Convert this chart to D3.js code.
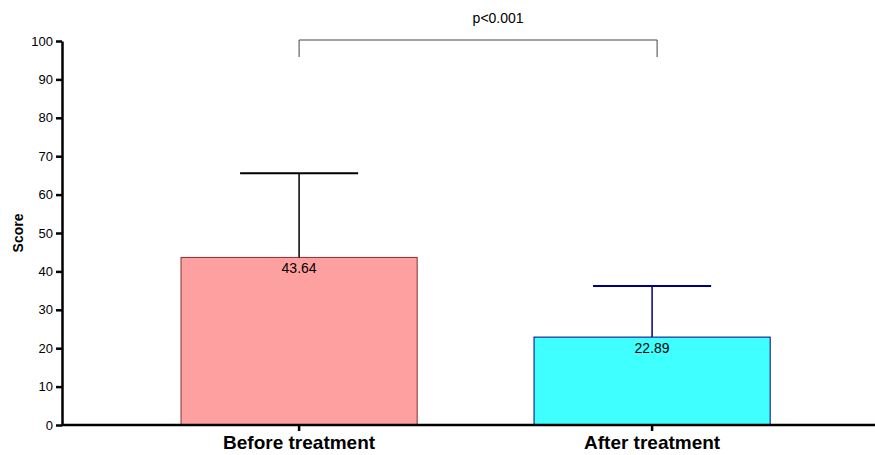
<!DOCTYPE html>
<html>
<head>
<meta charset="utf-8">
<script src="https://cdn.jsdelivr.net/npm/d3@7"></script>
<style>
  html, body { margin: 0; padding: 0; background: #fff; }
  svg { display: block; font-family: Arial, "Liberation Sans", sans-serif; }
</style>
</head>
<body>
<svg id="chart" width="875" height="455"></svg>
<script>
// Data
const categories = ['Before treatment', 'After treatment'];
const means = [43.64, 22.89];
const errors = [21.9, 13.3];
const yTicks = [0, 10, 20, 30, 40, 50, 60, 70, 80, 90, 100];
const pLabel = 'p<0.001';

const fills = ['#ffa0a0', '#40ffff'];
const strokes = ['#8a2f2f', '#000080'];
const errColors = ['#000000', '#000080'];

const width = 875, height = 455;
const axisX = 62;
const svg = d3.select('#chart');

// Scales
const x = d3.scaleBand()
  .domain(categories)
  .range([122.6, 828.6])
  .paddingInner(0.331)
  .paddingOuter(0.1655);

const y = d3.scaleLinear()
  .domain([0, 100])
  .range([425, 41]);

// Bars
svg.append('g')
  .selectAll('rect')
  .data(categories)
  .join('rect')
  .attr('x', d => x(d))
  .attr('y', (d, i) => y(means[i]))
  .attr('width', x.bandwidth())
  .attr('height', (d, i) => y(0) - y(means[i]))
  .attr('fill', (d, i) => fills[i])
  .attr('stroke', (d, i) => strokes[i])
  .attr('stroke-width', 1);

// Error bars (upper only)
const capHalf = x.bandwidth() / 4;
const errG = svg.append('g');
categories.forEach((c, i) => {
  const cx = x(c) + x.bandwidth() / 2;
  errG.append('line')
    .attr('x1', cx).attr('x2', cx)
    .attr('y1', y(means[i])).attr('y2', y(means[i] + errors[i]))
    .attr('stroke', errColors[i]).attr('stroke-width', 1.5);
  errG.append('line')
    .attr('x1', cx - capHalf).attr('x2', cx + capHalf)
    .attr('y1', y(means[i] + errors[i])).attr('y2', y(means[i] + errors[i]))
    .attr('stroke', errColors[i]).attr('stroke-width', 2);
});

// Value labels
svg.append('g')
  .selectAll('text')
  .data(categories)
  .join('text')
  .attr('x', d => x(d) + x.bandwidth() / 2)
  .attr('y', (d, i) => y(means[i]) + 16)
  .attr('text-anchor', 'middle')
  .attr('font-size', '14px')
  .attr('fill', '#000')
  .text((d, i) => means[i].toFixed(2));

// Y axis
const yAxis = d3.axisLeft(y)
  .tickValues(yTicks)
  .tickSize(6)
  .tickPadding(3)
  .tickSizeOuter(0);

const yAxisG = svg.append('g')
  .attr('transform', `translate(${axisX},0)`)
  .call(yAxis);
yAxisG.select('.domain').attr('stroke-width', 2.5);
yAxisG.selectAll('.tick line').attr('stroke-width', 2.5);
yAxisG.selectAll('text')
  .attr('font-size', '13px')
  .attr('font-family', 'Arial, "Liberation Sans", sans-serif')
  .attr('fill', '#000');

// X axis line running to the right edge
svg.append('line')
  .attr('x1', axisX).attr('x2', width)
  .attr('y1', y(0)).attr('y2', y(0))
  .attr('stroke', '#000').attr('stroke-width', 2.5);

const xAxis = d3.axisBottom(x).tickSize(6).tickPadding(5).tickSizeOuter(0);
const xAxisG = svg.append('g')
  .attr('transform', `translate(0,${y(0)})`)
  .call(xAxis);
xAxisG.select('.domain').remove();
xAxisG.selectAll('.tick line').attr('stroke-width', 2.5);
xAxisG.selectAll('text')
  .attr('font-size', '19px')
  .attr('font-weight', 'bold')
  .attr('font-family', 'Arial, "Liberation Sans", sans-serif')
  .attr('fill', '#000');

// Y axis title
svg.append('text')
  .attr('transform', `translate(23,${y(50)}) rotate(-90)`)
  .attr('text-anchor', 'middle')
  .attr('font-size', '14px')
  .attr('font-weight', 'bold')
  .text('Score');

// Significance bracket
const bx1 = x(categories[0]) + x.bandwidth() / 2;
const bx2 = x(categories[1]) + x.bandwidth() / 2 + 5;
const by = 40, bDrop = 17;
svg.append('path')
  .attr('d', `M${bx1},${by + bDrop}V${by}H${bx2}V${by + bDrop}`)
  .attr('fill', 'none')
  .attr('stroke', '#444')
  .attr('stroke-width', 1);

svg.append('text')
  .attr('x', (bx1 + bx2) / 2 + 20)
  .attr('y', 23)
  .attr('text-anchor', 'middle')
  .attr('font-size', '14px')
  .text(pLabel);
</script>
</body>
</html>
